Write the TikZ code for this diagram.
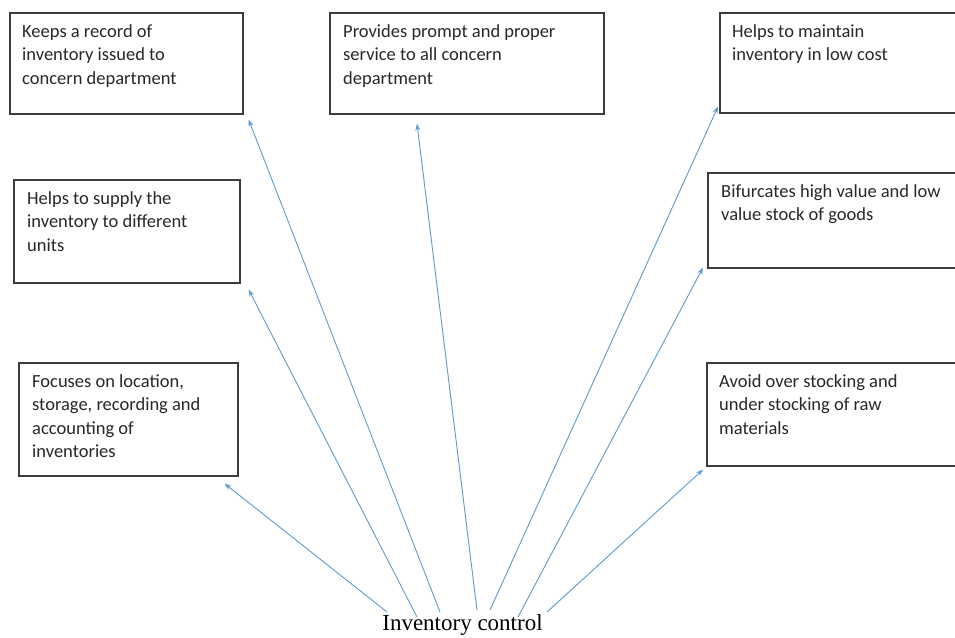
\documentclass[tikz,border=0pt]{standalone}
\usepackage{fontspec}
\setmainfont{Liberation Serif}
\newfontfamily\boxfont{Carlito}
\usetikzlibrary{arrows.meta,calc}
\definecolor{arrowblue}{RGB}{91,155,213}
\definecolor{boxline}{RGB}{60,60,60}
\definecolor{boxtext}{RGB}{40,40,40}
\begin{document}
\begin{tikzpicture}[x=1pt,y=-1pt,
  infobox/.style={draw=boxline,line width=1.6pt,rectangle,inner sep=0pt,anchor=north west},
  infotext/.style={anchor=north west,inner sep=0pt,align=left,text=boxtext,font=\boxfont\fontsize{18.5}{23.5}\selectfont},
  conn/.style={draw=arrowblue,line width=0.9pt,-{Stealth[length=7pt,width=5pt]}}]
\clip (0,0) rectangle (955,637);
\fill[white] (0,0) rectangle (955,637);

% boxes
\node[infobox,minimum width=233pt,minimum height=101pt] (b1) at (9,12) {};
\node[infobox,minimum width=274pt,minimum height=101pt] (b2) at (329,12) {};
\node[infobox,minimum width=260pt,minimum height=100pt] (b3) at (719,12) {};
\node[infobox,minimum width=226pt,minimum height=103pt] (b4) at (13,179) {};
\node[infobox,minimum width=270pt,minimum height=95pt] (b5) at (707,172) {};
\node[infobox,minimum width=219pt,minimum height=113pt] (b6) at (18,362) {};
\node[infobox,minimum width=270pt,minimum height=103pt] (b7) at (706,362) {};

% texts
\node[infotext] (t1) at ($(b1.north west)+(13,12)$) {Keeps a record of\\inventory issued to\\concern department};
\node[infotext] (t2) at ($(b2.north west)+(14,12)$) {Provides prompt and proper\\service to all concern\\department};
\node[infotext] (t3) at ($(b3.north west)+(13,12)$) {Helps to maintain\\inventory in low cost};
\node[infotext] (t4) at ($(b4.north west)+(14,12)$) {Helps to supply the\\inventory to different\\units};
\node[infotext] (t5) at ($(b5.north west)+(14,12)$) {Bifurcates high value and low\\value stock of goods};
\node[infotext] (t6) at ($(b6.north west)+(14,12)$) {Focuses on location,\\storage, recording and\\accounting of\\inventories};
\node[infotext] (t7) at ($(b7.north west)+(13,12)$) {Avoid over stocking and\\under stocking of raw\\materials};

% root
\node[anchor=base,inner sep=0pt,font=\fontsize{23}{27}\selectfont,text=black] (ic) at (462.5,630) {Inventory control};

% start points
\coordinate (s1) at (387,612);
\coordinate (s2) at (417,617);
\coordinate (s3) at (440,612);
\coordinate (s4) at (477,610);
\coordinate (s5) at (490,610);
\coordinate (s6) at (518,617);
\coordinate (s7) at (547,612);

% arrows
\draw[conn] (s1) -- ($(b6.south east)+(-14,7)$);
\draw[conn] (s2) -- ($(b4.south east)+(8,6)$);
\draw[conn] (s3) -- ($(b1.south east)+(5,5)$);
\draw[conn] (s4) -- ($(b2.south west)+(88,9)$);
\draw[conn] (s5) -- ($(b3.south west)+(-1,-7)$);
\draw[conn] (s6) -- ($(b5.south west)+(-4,-1)$);
\draw[conn] (s7) -- ($(b7.south west)+(-3,3)$);
\end{tikzpicture}
\end{document}
